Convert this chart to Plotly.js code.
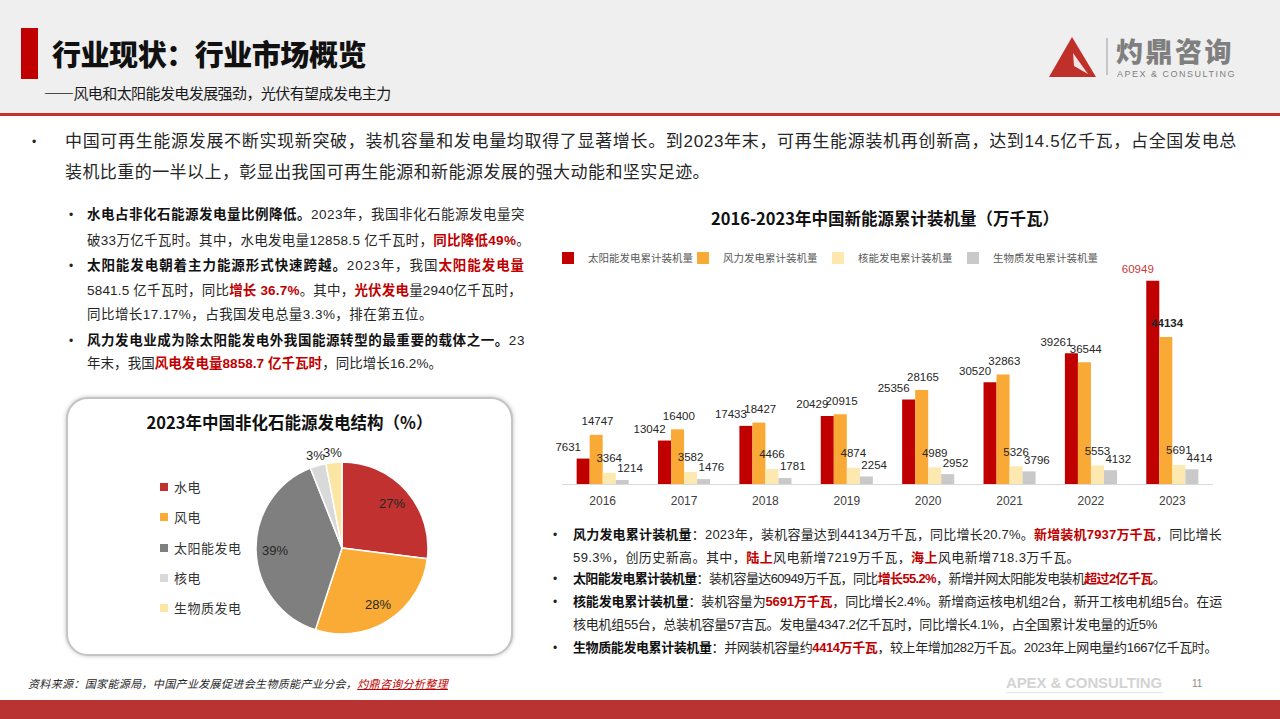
<!DOCTYPE html>
<html lang="zh">
<head>
<meta charset="utf-8">
<script src="https://cdn.plot.ly/plotly-3.0.1.min.js"></script>
<style>
html,body{margin:0;padding:0;background:#fff;}
#slide{position:relative;width:1280px;height:719px;overflow:hidden;background:#fff;font-family:"Liberation Sans","Noto Sans CJK SC",sans-serif;color:#262626;}
.a{position:absolute;white-space:nowrap;}
.b{font-weight:bold;color:#111;}
.r{font-weight:bold;color:#c00000;}
.cjk{font-family:"Noto Sans CJK SC",sans-serif;}
.mt{font-size:17px;line-height:24px;}
.lt{font-size:13.5px;line-height:20px;}
.rt{font-size:13px;line-height:20px;}
.dot{font-size:12px;line-height:20px;color:#222;}
#chart{position:absolute;left:0;top:0;width:1280px;height:719px;}
</style>
</head>
<body>
<div id="slide">
  <!-- header -->
  <div class="a" style="left:0;top:0;width:1280px;height:113px;background:#efefef"></div>
  <div class="a" style="left:0;top:113px;width:1280px;height:3px;background:#c8302e"></div>
  <div class="a" style="left:21px;top:28px;width:17px;height:51px;background:#c00000"></div>
  <div class="a cjk" data-w="314" style="left:52px;top:35px;font-size:29px;line-height:36px;font-weight:900;color:#111">行业现状：行业市场概览</div>
  <div class="a cjk" data-w="346" style="left:44px;top:83px;font-size:15px;line-height:20px;color:#1a1a1a">——风电和太阳能发电发展强劲，光伏有望成发电主力</div>
  <svg class="a" style="left:0;top:0" width="1280" height="113">
    <polygon points="1072,37 1049,77 1096,77" fill="#c0302b"/>
    <polygon points="1073,53 1088,74 1074,66" fill="#f4e4e4"/>
    <line x1="1107" y1="38" x2="1107" y2="75" stroke="#9a9a9a" stroke-width="1"/>
  </svg>
  <div class="a cjk" data-w="118" style="left:1116px;top:33px;font-size:27px;line-height:36px;font-weight:900;color:#7f7f7f">灼鼎咨询</div>
  <div class="a" data-w="119" style="left:1117px;top:68px;font-size:9px;line-height:12px;color:#808080">APEX &amp; CONSULTING</div>

  <!-- main paragraph -->
  <div class="a dot" style="left:32px;top:132px">•</div>
  <div class="a mt" data-w="1172" style="left:65px;top:130px">中国可再生能源发展不断实现新突破，装机容量和发电量均取得了显著增长。到2023年末，可再生能源装机再创新高，达到14.5亿千瓦，占全国发电总</div>
  <div class="a mt" data-w="645" style="left:65px;top:161px">装机比重的一半以上，彰显出我国可再生能源和新能源发展的强大动能和坚实足迹。</div>

  <!-- left bullets -->
  <div class="a dot" style="left:69px;top:205px">•</div>
  <div class="a lt" data-w="438" style="left:87px;top:205px"><span class="b">水电占非化石能源发电量比例降低。</span>2023年，我国非化石能源发电量突</div>
  <div class="a lt" data-w="443" style="left:87px;top:231px">破33万亿千瓦时。其中，水电发电量12858.5 亿千瓦时，<span class="r">同比降低49%</span>。</div>
  <div class="a dot" style="left:69px;top:256px">•</div>
  <div class="a lt" data-w="438" style="left:87px;top:256px"><span class="b">太阳能发电朝着主力能源形式快速跨越。</span>2023年，我国<span class="r">太阳能发电量</span></div>
  <div class="a lt" data-w="435" style="left:87px;top:281px">5841.5 亿千瓦时，同比<span class="r">增长 36.7%</span>。其中，<span class="r">光伏发电</span>量2940亿千瓦时，</div>
  <div class="a lt" data-w="346" style="left:87px;top:305px">同比增长17.17%，占我国发电总量3.3%，排在第五位。</div>
  <div class="a dot" style="left:69px;top:331px">•</div>
  <div class="a lt" data-w="438" style="left:87px;top:331px"><span class="b">风力发电业成为除太阳能发电外我国能源转型的最重要的载体之一。</span>23</div>
  <div class="a lt" data-w="355" style="left:87px;top:354px">年末，我国<span class="r">风电发电量8858.7 亿千瓦时</span>，同比增长16.2%。</div>

  <!-- pie box -->
  <div class="a" style="left:66px;top:397px;width:443px;height:255px;border:2px solid #c4c4c4;border-radius:22px;box-shadow:0 0 4px rgba(0,0,0,0.25);background:#fff"></div>
  <div class="a cjk" style="left:66px;top:410px;width:447px;text-align:center;font-size:16.5px;line-height:24px;font-weight:bold;color:#111">2023年中国非化石能源发电结构（%）</div>
  <div id="pieLegend"></div>

  <!-- bar title -->
  <div class="a cjk" style="left:560px;top:206px;width:650px;text-align:center;font-size:16.5px;line-height:24px;font-weight:bold;color:#111">2016-2023年中国新能源累计装机量（万千瓦）</div>

  <!-- right bullets -->
  <div class="a dot" style="left:553px;top:525px">•</div>
  <div class="a rt" data-w="649" style="left:573px;top:525px"><span class="b">风力发电累计装机量</span>：2023年，装机容量达到44134万千瓦，同比增长20.7%。<span class="r">新增装机7937万千瓦</span>，同比增长</div>
  <div class="a rt" data-w="507" style="left:573px;top:548px">59.3%，创历史新高。其中，<span class="r">陆上</span>风电新增7219万千瓦，<span class="r">海上</span>风电新增718.3万千瓦。</div>
  <div class="a dot" style="left:553px;top:569px">•</div>
  <div class="a rt" data-w="592" style="left:573px;top:569px"><span class="b">太阳能发电累计装机量</span>：装机容量达60949万千瓦，同比<span class="r">增长55.2%</span>，新增并网太阳能发电装机<span class="r">超过2亿千瓦</span>。</div>
  <div class="a dot" style="left:553px;top:592px">•</div>
  <div class="a rt" data-w="649" style="left:573px;top:592px"><span class="b">核能发电累计装机量</span>：装机容量为<span class="r">5691万千瓦</span>，同比增长2.4%。新增商运核电机组2台，新开工核电机组5台。在运</div>
  <div class="a rt" data-w="584" style="left:573px;top:615px">核电机组55台，总装机容量57吉瓦。发电量4347.2亿千瓦时，同比增长4.1%，占全国累计发电量的近5%</div>
  <div class="a dot" style="left:553px;top:638px">•</div>
  <div class="a rt" data-w="644" style="left:573px;top:638px"><span class="b">生物质能发电累计装机量</span>：并网装机容量约<span class="r">4414万千瓦</span>，较上年增加282万千瓦。2023年上网电量约1667亿千瓦时。</div>

  <!-- footer -->
  <div class="a" data-w="420" style="left:28px;top:676px;font-size:11px;line-height:16px;font-style:italic;color:#262626">资料来源：国家能源局，中国产业发展促进会生物质能产业分会，<span style="color:#c00000;text-decoration:underline">灼鼎咨询分析整理</span></div>
  <div class="a" data-w="156" style="left:1006px;top:674px;font-size:15px;line-height:18px;font-weight:bold;color:#d3d3d3;font-family:'Liberation Sans Narrow','Liberation Sans',sans-serif">APEX &amp; CONSULTING</div>
  <div class="a" style="left:1006px;top:692px;width:157px;height:1px;background:#e6e6e6"></div>
  <div class="a" style="left:1192px;top:677px;font-size:10px;line-height:14px;color:#8a8a8a">11</div>
  <div class="a" style="left:0;top:700px;width:1280px;height:19px;background:#b93333"></div>

  <div id="chart"></div>
</div>

<script>
// ---------- data ----------
const years = ['2016','2017','2018','2019','2020','2021','2022','2023'];
const solar   = [7631, 13042, 17433, 20429, 25356, 30520, 39261, 60949];
const wind    = [14747, 16400, 18427, 20915, 28165, 32863, 36544, 44134];
const nuclear = [3364, 3582, 4466, 4874, 4989, 5326, 5553, 5691];
const biomass = [1214, 1476, 1781, 2254, 2952, 3796, 4132, 4414];
const barNames = ['太阳能发电累计装机量', '风力发电累计装机量', '核能发电累计装机量', '生物质发电累计装机量'];

const pieLabels = ['水电', '风电', '太阳能发电', '核电', '生物质发电'];
const pieValues = [27, 28, 39, 3, 3];

// ---------- styles ----------
const barColors = ['#c00000', '#f9a935', '#fde8b0', '#c9c9c9'];
const pieColors = ['#c0312f', '#f9ab35', '#7f7f7f', '#d9d9d9', '#fbe5a3'];
const W = 1280, H = 719;
const numFont = '"Liberation Sans",Arial,sans-serif';

// fit line widths
document.querySelectorAll('[data-w]').forEach(el => {
  const target = +el.dataset.w;
  el.style.letterSpacing = '0px';
  const w = el.getBoundingClientRect().width;
  const n = el.textContent.length;
  el.style.letterSpacing = ((target - w) / Math.max(n, 1)) + 'px';
});

// pie legend (html, built from the category arrays)
const pl = document.getElementById('pieLegend');
pieLabels.forEach((lab, i) => {
  const cy = 487 + i * 30.3;
  const sq = document.createElement('div');
  sq.className = 'a';
  sq.style.cssText = `left:160px;top:${cy - 4}px;width:8px;height:8px;background:${pieColors[i]}`;
  pl.appendChild(sq);
  const tx = document.createElement('div');
  tx.className = 'a cjk';
  tx.style.cssText = `left:174px;top:${cy - 10}px;font-size:13px;line-height:20px;color:#333;letter-spacing:0.5px`;
  tx.textContent = lab;
  pl.appendChild(tx);
});

// ---------- plotly ----------
const idx = years.map((y, i) => i);
const series = [solar, wind, nuclear, biomass];
const bargap = 0.36;
const barW = (1 - bargap) / series.length;
// label style per series: horizontal nudge (fraction of a bar) and invisible marker size (controls lift)
const labelNudge = [-1.15, 0.1, 0, 0.6];
const labelLift = [0, 9, 11, 0];

const traces = series.map((vals, k) => ({
  type: 'bar',
  name: barNames[k],
  x: idx,
  y: vals,
  marker: { color: barColors[k] },
  legendwidth: k === series.length - 1 ? 112 : 90,
  hoverinfo: 'skip'
}));

series.forEach((vals, k) => {
  const off = (k - (series.length - 1) / 2) * barW + labelNudge[k] * barW;
  traces.push({
    type: 'scatter',
    mode: 'markers+text',
    x: idx.map(i => i + off),
    y: vals,
    text: vals.map((v, i) => (k === 1 && i === vals.length - 1) ? '<b>' + v + '</b>' : String(v)),
    textposition: 'top center',
    textfont: {
      size: 11.5, family: numFont,
      color: vals.map((v, i) => (k === 0 && i === vals.length - 1) ? '#c43a3a' : '#262626')
    },
    marker: { size: labelLift[k], opacity: 0 },
    cliponaxis: false,
    showlegend: false,
    hoverinfo: 'skip'
  });
});

// pie
const pieDomain = { x: [256 / W, 428 / W], y: [(H - 634) / H, (H - 462) / H] };
traces.push({
  type: 'pie',
  labels: pieLabels,
  values: pieValues,
  sort: false,
  direction: 'clockwise',
  rotation: 0,
  marker: { colors: pieColors, line: { color: '#ffffff', width: 1.5 } },
  textinfo: 'none',
  showlegend: false,
  hoverinfo: 'skip',
  domain: pieDomain
});

// pie percentage labels: positioned from the slice mid-angles of the data
const total = pieValues.reduce((a, b) => a + b, 0);
const pcx = (pieDomain.x[0] + pieDomain.x[1]) / 2;
const pcy = (pieDomain.y[0] + pieDomain.y[1]) / 2;
const Rpx = Math.min((pieDomain.x[1] - pieDomain.x[0]) * W, (pieDomain.y[1] - pieDomain.y[0]) * H) / 2;
let acc = 0;
const pieAnn = pieValues.map(v => {
  const mid = (acc + v / 2) / total * 2 * Math.PI;
  acc += v;
  const rr = (v / total < 0.05 ? 1.12 : 0.78) * Rpx;
  return {
    xref: 'paper', yref: 'paper',
    x: pcx + rr * Math.sin(mid) / W,
    y: pcy + rr * Math.cos(mid) / H,
    xanchor: 'center', yanchor: 'middle',
    text: v + '%', showarrow: false,
    font: { size: 13, color: '#262626', family: numFont }
  };
});

const layout = {
  width: W, height: H,
  margin: { l: 0, r: 0, t: 0, b: 0 },
  paper_bgcolor: 'rgba(0,0,0,0)',
  plot_bgcolor: 'rgba(0,0,0,0)',
  font: { family: '"Noto Sans CJK SC","Liberation Sans",sans-serif', color: '#404040' },
  barmode: 'group',
  bargap: bargap,
  bargroupgap: 0,
  xaxis: {
    domain: [562 / W, 1213 / W],
    type: 'linear',
    range: [-0.5, years.length - 0.5],
    tickvals: idx, ticktext: years,
    showline: true, linecolor: '#d9d9d9', linewidth: 1,
    ticks: '', showgrid: false, zeroline: false,
    tickfont: { size: 12, color: '#404040', family: numFont },
    ticklabelstandoff: 6
  },
  yaxis: {
    domain: [(H - 484) / H, (H - 264) / H],
    range: [0, 66000],
    visible: false
  },
  annotations: pieAnn,
  showlegend: true,
  legend: {
    orientation: 'h',
    x: 548 / W, xanchor: 'left',
    y: (H - 258) / H, yanchor: 'middle',
    font: { size: 10.5, color: '#595959', family: '"Noto Sans CJK SC",sans-serif' },
    bgcolor: 'rgba(0,0,0,0)',
    entrywidth: 90, entrywidthmode: 'pixels',
    traceorder: 'normal'
  }
};

Plotly.newPlot('chart', traces, layout, { staticPlot: true, displayModeBar: false });
</script>
</body>
</html>
